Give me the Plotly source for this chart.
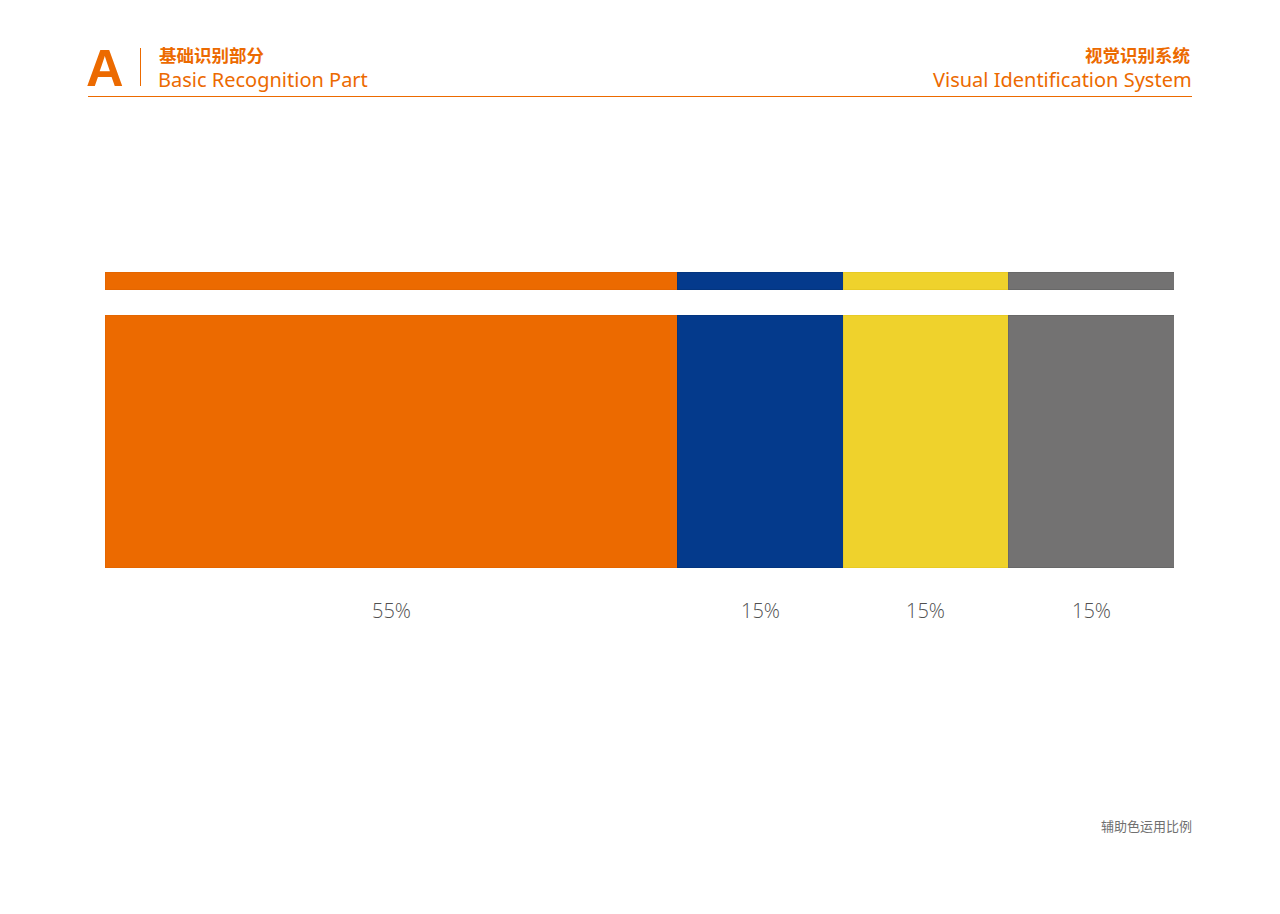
import plotly.graph_objects as go

# ---- data ----
segments = ["主色", "辅助色1", "辅助色2", "辅助色3"]
# segment widths as drawn in the picture (share of the full bar, %)
shares = [53.6, 15.45, 15.5, 15.45]
labels = ["55%", "15%", "15%", "15%"]
colors = ["#EC6A00", "#043A8C", "#EFD22C", "#737272"]
edge_colors = ["#E46600", "#03357F", "#E8CA25", "#686868"]
bar_rows = ["thin", "thick"]

W, H = 1280, 914
L, R, T, B = 105, 106, 260, 334
PW, PH = W - L - R, H - T - B

def px(x):
    return (x - L) / PW

def py(y):
    return 1 - (y - T) / PH

ORANGE = "#EC6A00"

# bar row geometry (in y-axis units = pixels below plot top)
row_center = {"thin": 20.5, "thick": 181.25}
row_width = {"thin": 17, "thick": 252.5}

fig = go.Figure()
for i, seg in enumerate(segments):
    fig.add_trace(go.Bar(
        x=[shares[i]] * len(bar_rows),
        y=[row_center[r] for r in bar_rows],
        width=[row_width[r] for r in bar_rows],
        orientation="h",
        name=seg,
        marker=dict(color=colors[i], line=dict(color=edge_colors[i], width=1)),
        hoverinfo="skip",
    ))

annotations = []
cum = 0
for s, lab in zip(shares, labels):
    annotations.append(dict(
        x=(cum + s / 2) / 100, y=py(610), xref="paper", yref="paper", text=lab, showarrow=False,
        font=dict(family="Open Sans, sans-serif", size=20, color="#505050", weight=300),
        xanchor="center", yanchor="middle",
    ))
    cum += s

# header
annotations += [
    dict(x=px(104.5), y=py(68), xref="paper", yref="paper", text="<b>A</b>", showarrow=False,
         font=dict(family="Liberation Sans, Arial, sans-serif", size=52, color=ORANGE),
         xanchor="center", yanchor="middle"),
    dict(x=px(157), y=py(54), xref="paper", yref="paper", text="<b>基础识别部分</b>", showarrow=False,
         font=dict(family="Noto Sans CJK SC", size=17.5, color=ORANGE),
         xanchor="left", yanchor="middle"),
    dict(x=px(156), y=py(79.5), xref="paper", yref="paper", text="Basic Recognition Part", showarrow=False,
         font=dict(family="Noto Sans, sans-serif", size=20, color=ORANGE),
         xanchor="left", yanchor="middle"),
    dict(x=px(1193), y=py(54), xref="paper", yref="paper", text="<b>视觉识别系统</b>", showarrow=False,
         font=dict(family="Noto Sans CJK SC", size=17.5, color=ORANGE),
         xanchor="right", yanchor="middle"),
    dict(x=px(1194), y=py(79.5), xref="paper", yref="paper", text="Visual Identification System", showarrow=False,
         font=dict(family="Noto Sans, sans-serif", size=20, color=ORANGE),
         xanchor="right", yanchor="middle"),
    dict(x=px(1194), y=py(825), xref="paper", yref="paper", text="辅助色运用比例", showarrow=False,
         font=dict(family="Noto Sans CJK SC", size=13, color="#707070"),
         xanchor="right", yanchor="middle"),
]

shapes = [
    dict(type="line", xref="paper", yref="paper", x0=px(88), x1=px(1192), y0=py(96.5), y1=py(96.5),
         line=dict(color=ORANGE, width=1)),
    dict(type="line", xref="paper", yref="paper", x0=px(140.5), x1=px(140.5), y0=py(48), y1=py(86),
         line=dict(color=ORANGE, width=1)),
]

fig.update_layout(
    width=W, height=H,
    margin=dict(l=L, r=R, t=T, b=B),
    barmode="stack",
    showlegend=False,
    plot_bgcolor="white", paper_bgcolor="white",
    xaxis=dict(range=[0, 100], visible=False, fixedrange=True),
    yaxis=dict(range=[PH, 0], visible=False, fixedrange=True),
    annotations=annotations,
    shapes=shapes,
)

fig.write_html("out.html", config={"displayModeBar": False})
